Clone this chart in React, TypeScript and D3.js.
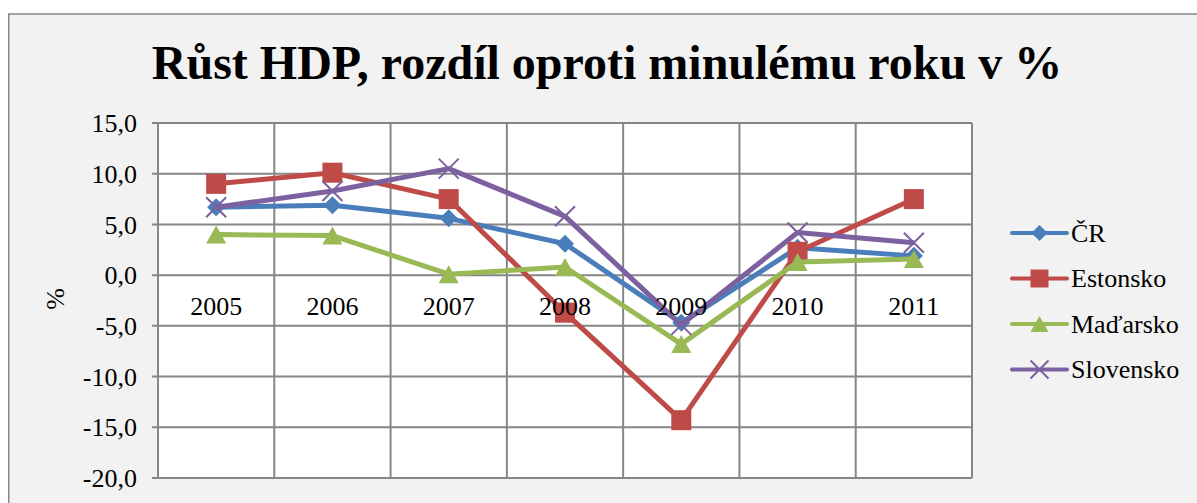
import React from 'react';
import * as d3 from 'd3';

// data
const years = ['2005', '2006', '2007', '2008', '2009', '2010', '2011'];
const crValues = [6.7, 6.9, 5.6, 3.1, -4.7, 2.7, 1.9];
const estonskoValues = [9.0, 10.1, 7.5, -3.7, -14.3, 2.3, 7.5];
const madarskoValues = [4.0, 3.9, 0.1, 0.8, -6.8, 1.3, 1.6];
const slovenskoValues = [6.7, 8.3, 10.5, 5.8, -4.9, 4.2, 3.2];
const yTicks = [15, 10, 5, 0, -5, -10, -15, -20];

const series = [
  { name: 'ČR', values: crValues, color: '#4a7ebb', marker: 'diamond' },
  { name: 'Estonsko', values: estonskoValues, color: '#be4b48', marker: 'square' },
  { name: 'Maďarsko', values: madarskoValues, color: '#98b954', marker: 'triangle' },
  { name: 'Slovensko', values: slovenskoValues, color: '#7d60a0', marker: 'x' },
];

const W = 1197;
const H = 503;
const plot = { left: 158, right: 972, top: 123, bottom: 478 };
const serif = { fontFamily: 'Liberation Serif' };
const gridColor = '#868686';

const Marker = ({ type, x, y, color, s = 1 }) => {
  if (type === 'diamond') {
    const r = 9 * s;
    return <path d={`M${x},${y - r}L${x + r},${y}L${x},${y + r}L${x - r},${y}Z`} fill={color} />;
  }
  if (type === 'square') {
    const r = 10 * s;
    return <rect x={x - r} y={y - r} width={2 * r} height={2 * r} fill={color} />;
  }
  if (type === 'triangle') {
    const r = 10 * s;
    const h = 9 * s;
    return <path d={`M${x},${y - h}L${x + r},${y + h}L${x - r},${y + h}Z`} fill={color} />;
  }
  const r = 10 * s;
  return (
    <path
      d={`M${x - r},${y - r}L${x + r},${y + r}M${x - r},${y + r}L${x + r},${y - r}`}
      stroke={color}
      strokeWidth={2}
      fill="none"
    />
  );
};

export default function App() {
  const x = d3.scaleBand().domain(years).range([plot.left, plot.right]);
  const y = d3.scaleLinear().domain([-20, 15]).range([plot.bottom, plot.top]);
  const cx = (d) => x(d) + x.bandwidth() / 2;

  const line = d3
    .line()
    .x((d) => d[0])
    .y((d) => d[1]);

  const legendX = 1012;
  const legendY = 233;
  const legendStep = 45.5;

  return (
    <svg width={W} height={H} style={{ position: 'absolute', left: 0, top: 0 }}>
      <rect x={0} y={0} width={W} height={H} fill="#ffffff" />
      <rect x={8.75} y={14} width={W + 20} height={H + 20} fill="#f2f2f2" stroke="#888888" strokeWidth={1.5} />

      <text x={607} y={79} textAnchor="middle" fontSize={48} fontWeight="bold" fill="#000" style={serif}>
        Růst HDP, rozdíl oproti minulému roku v %
      </text>

      {/* plot area */}
      <rect x={plot.left} y={plot.top} width={plot.right - plot.left} height={plot.bottom - plot.top} fill="#ffffff" />

      {yTicks.map((t) => (
        <g key={t}>
          <line x1={plot.left - 6} x2={plot.right} y1={y(t)} y2={y(t)} stroke={gridColor} strokeWidth={2} />
          <text x={137} y={y(t)} dy="0.35em" textAnchor="end" fontSize={26} fill="#000" style={serif}>
            {d3.format('.1f')(t).replace('.', ',').replace('−', '-')}
          </text>
        </g>
      ))}
      {years.map((yr) => (
        <line key={yr} x1={x(yr)} x2={x(yr)} y1={plot.top} y2={plot.bottom} stroke={gridColor} strokeWidth={2} />
      ))}
      <line x1={plot.right} x2={plot.right} y1={plot.top} y2={plot.bottom} stroke={gridColor} strokeWidth={2} />

      {series.map((s) => {
        const pts = years.map((yr, i) => [cx(yr), y(s.values[i])]);
        return (
          <g key={s.name}>
            <path d={line(pts)} fill="none" stroke={s.color} strokeWidth={5} strokeLinejoin="round" />
            {pts.map((p, i) => (
              <Marker key={i} type={s.marker} x={p[0]} y={p[1]} color={s.color} />
            ))}
          </g>
        );
      })}

      {years.map((yr) => (
        <text key={yr} x={cx(yr)} y={315} textAnchor="middle" fontSize={26} fill="#000" style={serif}>
          {yr}
        </text>
      ))}

      <text transform="translate(64,299) rotate(-90)" textAnchor="middle" fontSize={26} fill="#000" style={serif}>
        %
      </text>

      {series.map((s, i) => {
        const ly = legendY + i * legendStep;
        return (
          <g key={s.name}>
            <line x1={legendX} x2={legendX + 55} y1={ly} y2={ly} stroke={s.color} strokeWidth={4} strokeLinecap="round" />
            <Marker type={s.marker} x={legendX + 27.5} y={ly} color={s.color} s={0.9} />
            <text x={legendX + 59} y={ly} dy="0.33em" fontSize={26} fill="#000" style={serif}>
              {s.name}
            </text>
          </g>
        );
      })}
    </svg>
  );
}
